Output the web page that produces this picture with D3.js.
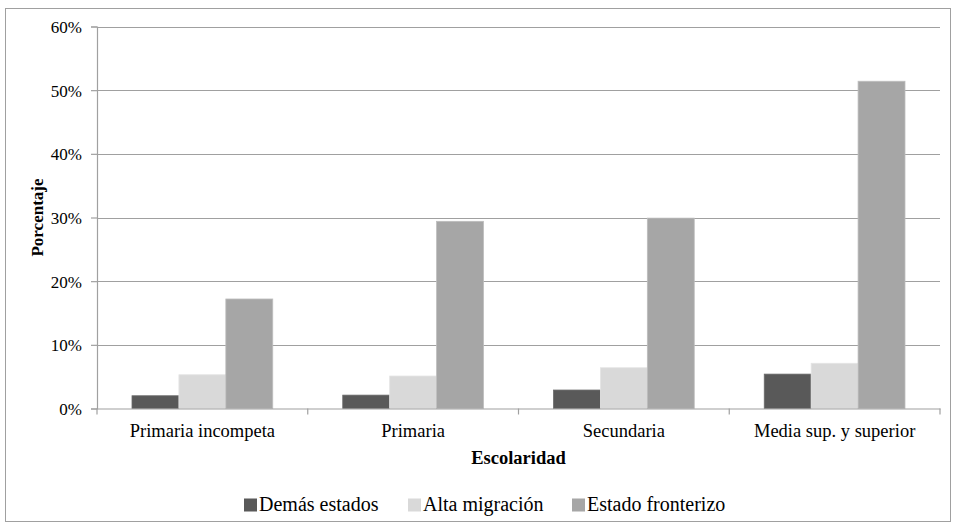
<!DOCTYPE html>
<html><head><meta charset="utf-8">
<script src="https://cdn.jsdelivr.net/npm/d3@7"></script>
<style>body{margin:0;background:#fff}svg{display:block}svg text{font-family:"Liberation Serif","Times New Roman",Times,serif !important;fill:#000}</style>
</head><body><svg id="c" width="956" height="528"></svg>
<script>
const categories = ["Primaria incompeta","Primaria","Secundaria","Media sup. y superior"];
const seriesNames = ["Demás estados","Alta migración","Estado fronterizo"];
const demas = [2.0, 2.1, 2.9, 5.4];
const alta = [5.3, 5.1, 6.4, 7.1];
const fronterizo = [17.2, 29.4, 29.9, 51.4];
const yTicks = [0,10,20,30,40,50,60];
const colors = ["#595959","#d9d9d9","#a6a6a6"];
const series = [demas, alta, fronterizo];

const svg = d3.select("#c");
const L = 97, R = 940, T = 26.5, B = 408.5;

svg.append("rect").attr("x",5.5).attr("y",8.5).attr("width",945).attr("height",513)
  .attr("fill","#fff").attr("stroke","#a0a0a0").attr("stroke-width",1);

const x0 = d3.scaleBand().domain(categories).range([L,R]).paddingInner(0).paddingOuter(0);
const x1 = d3.scaleBand().domain(d3.range(3)).range([35, x0.bandwidth()-35]);
const y = d3.scaleLinear().domain([0,60]).range([B,T]);

// gridlines
svg.append("g").selectAll("line").data(yTicks.filter(d=>d>0)).join("line")
  .attr("x1",L).attr("x2",R).attr("y1",d=>Math.round(y(d))+0.5).attr("y2",d=>Math.round(y(d))+0.5)
  .attr("stroke","#a0a0a0").attr("stroke-width",1.2);

// bars
const g = svg.append("g");
categories.forEach((c,i)=>{
  series.forEach((s,j)=>{
    g.append("rect").attr("x",x0(c)+x1(j)).attr("width",x1.bandwidth())
      .attr("y",y(s[i])).attr("height",B-y(s[i]))
      .attr("fill",colors[j]).attr("stroke", j===2 ? "#bdbdbd" : (j===1?"#e4e4e4":"#6a6a6a")).attr("stroke-width",0.8);
  });
});

// y axis
const ya = svg.append("g").attr("transform",`translate(${L},0)`)
  .call(d3.axisLeft(y).tickValues(yTicks).tickFormat(d=>d+"%").tickSize(6).tickPadding(9));
ya.attr("font-family",null);
ya.select(".domain").attr("stroke","#a0a0a0").attr("stroke-width",1.2);
ya.selectAll(".tick line").attr("stroke","#a0a0a0").attr("stroke-width",1.2);
ya.selectAll("text").attr("font-size","17px").attr("fill","#000").attr("dy","0.36em");

// x axis
const xa = svg.append("g").attr("transform",`translate(0,${B})`)
  .call(d3.axisBottom(x0).tickSize(0).tickPadding(0));
xa.attr("font-family",null);
xa.select(".domain").attr("stroke","#a0a0a0").attr("stroke-width",1.2);
xa.selectAll("text").attr("font-size","18.5px").attr("fill","#000").attr("y",28.5).attr("dy",0);
svg.append("g").selectAll("line").data(d3.range(5)).join("line")
  .attr("x1",d=>L+d*x0.bandwidth()).attr("x2",d=>L+d*x0.bandwidth())
  .attr("y1",B).attr("y2",B+6).attr("stroke","#a0a0a0").attr("stroke-width",1.2);

// axis titles
svg.append("text").attr("x",(L+R)/2).attr("y",463.5).attr("text-anchor","middle")
  .attr("font-size","18.5px").attr("font-weight","bold").text("Escolaridad");
svg.append("text").attr("transform",`translate(43,${(T+B)/2}) rotate(-90)`).attr("text-anchor","middle")
  .attr("font-size","17px").attr("font-weight","bold").text("Porcentaje");

// legend
const legX = [244, 408, 572];
const lg = svg.append("g");
seriesNames.forEach((n,j)=>{
  lg.append("rect").attr("x",legX[j]).attr("y",498.5).attr("width",13).attr("height",13).attr("fill",colors[j]);
  lg.append("text").attr("x",legX[j]+15).attr("y",511).attr("font-size","20px").text(n);
});
</script></body></html>
